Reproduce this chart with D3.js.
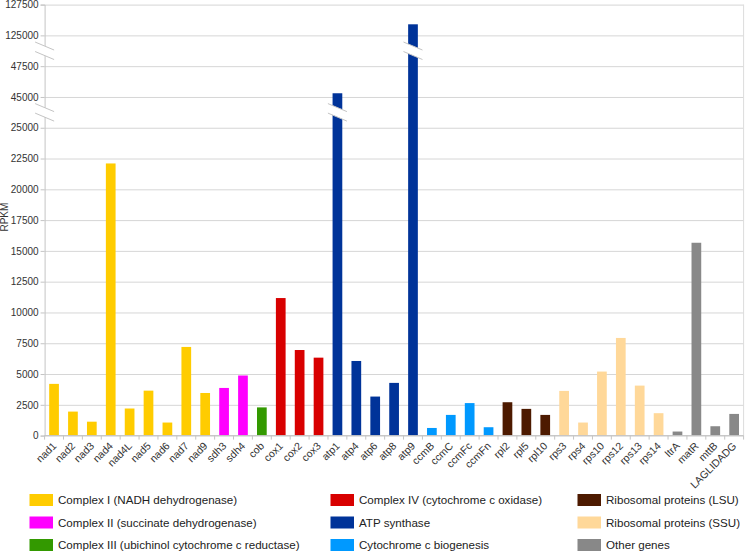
<!DOCTYPE html>
<html><head><meta charset="utf-8">
<script src="https://cdn.jsdelivr.net/npm/d3@7"></script>
<style>
html,body{margin:0;padding:0;background:#fff;}
svg{display:block;font-family:"Liberation Sans",Arial,sans-serif;}
</style></head><body>
<svg id="chart" width="745" height="553"></svg>
<script>
const genes = ["nad1","nad2","nad3","nad4","nad4L","nad5","nad6","nad7","nad9","sdh3","sdh4","cob","cox1","cox2","cox3","atp1","atp4","atp6","atp8","atp9","ccmB","ccmC","ccmFc","ccmFn","rpl2","rpl5","rpl10","rps3","rps4","rps10","rps12","rps13","rps14","ltrA","matR","mttB","LAGLIDADG"];
const values = [4200,1950,1130,22100,2200,3650,1060,7200,3460,3870,4880,2290,11170,6950,6330,45300,6060,3170,4280,125900,620,1680,2640,680,2710,2170,1680,3630,1060,5200,7930,4060,1820,330,15660,760,1760];
const groupOf = [0,0,0,0,0,0,0,0,0,1,1,2,3,3,3,4,4,4,4,4,5,5,5,5,6,6,6,7,7,7,7,7,7,8,8,8,8];
const groups = ["Complex I (NADH dehydrogenase)","Complex II (succinate dehydrogenase)","Complex III (ubichinol cytochrome c reductase)","Complex IV (cytochrome c oxidase)","ATP synthase","Cytochrome c biogenesis","Ribosomal proteins (LSU)","Ribosomal proteins (SSU)","Other genes"];
const colors = ["#FFCC00","#FF00FF","#339900","#D80000","#003399","#0099FF","#4D1A00","#FFD899","#888888"];
const yTicks = [0,2500,5000,7500,10000,12500,15000,17500,20000,22500,25000,45000,47500,125000,127500];
const yDomain = [0,25000,45000,47500,125000,127500];
const axisBreaks = [[25000,45000],[47500,125000]];
const barBreaks = [{gene:"atp1", brk:0},{gene:"atp9", brk:1}];
const yLabel = "RPKM";

const svg = d3.select("#chart");
const X0 = 44.6, X1 = 743.6, YB = 435.6, YT = 4.6;
const step = (YB - YT) / 14;
const y = d3.scaleLinear().domain(yDomain)
  .range([YB, YB - 10*step, YB - 11*step, YB - 12*step, YB - 13*step, YB - 14*step]);
const x = d3.scaleBand().domain(genes).range([X0, X1]).paddingInner(0.486).paddingOuter(0.243);

// gridlines
svg.append("g").attr("transform", `translate(${X0},0)`)
  .call(d3.axisLeft(y).tickValues(yTicks).tickSize(-(X1 - X0)).tickFormat(""))
  .call(g => g.select(".domain").remove())
  .call(g => g.selectAll("line").attr("stroke", "#d6d6d6"));

// right border
svg.append("line").attr("x1", X1).attr("x2", X1).attr("y1", YT).attr("y2", YB).attr("stroke", "#dcdcdc");

// y axis
svg.append("g").attr("transform", `translate(${X0},0)`)
  .call(d3.axisLeft(y).tickValues(yTicks).tickSize(4).tickPadding(2).tickFormat(d3.format("d")))
  .call(g => g.select(".domain").attr("stroke", "#c4c4c4"))
  .call(g => g.selectAll(".tick line").attr("stroke", "#c4c4c4"))
  .call(g => g.selectAll("text").attr("fill", "#333").attr("font-size", "10px").attr("font-family", "Liberation Sans, Arial, sans-serif"));

// bars
svg.append("g").selectAll("rect").data(genes).join("rect")
  .attr("x", d => x(d))
  .attr("y", (d, i) => y(values[i]))
  .attr("width", x.bandwidth())
  .attr("height", (d, i) => YB - y(values[i]))
  .attr("fill", (d, i) => colors[groupOf[i]]);

// x axis baseline + boundary ticks
svg.append("line").attr("x1", X0).attr("x2", X1).attr("y1", YB).attr("y2", YB).attr("stroke", "#c4c4c4");
const bounds = genes.map(g => x(g) - (x.step() - x.bandwidth()) / 2).concat([X1]);
svg.append("g").selectAll("line").data(bounds).join("line")
  .attr("x1", d => d).attr("x2", d => d).attr("y1", YB).attr("y2", YB + 4).attr("stroke", "#c4c4c4");

// x labels
svg.append("g").selectAll("text").data(genes).join("text")
  .attr("transform", d => `translate(${x(d) + x.bandwidth()/2 + 3},${YB + 11}) rotate(-45)`)
  .attr("text-anchor", "end")
  .attr("font-size", "10.5px")
  .attr("fill", "#333")
  .text(d => d);

// break marks
function breakMark(cx, cy, hw) {
  const s = 4, gap = 9.5;
  const g = svg.append("g");
  g.append("polygon")
    .attr("points", [[cx-hw, cy-gap/2-s],[cx+hw, cy-gap/2+s],[cx+hw, cy+gap/2+s],[cx-hw, cy+gap/2-s]].map(p => p.join(",")).join(" "))
    .attr("fill", "#fff");
  [-gap/2, gap/2].forEach(o => {
    g.append("line").attr("x1", cx-hw).attr("y1", cy+o-s).attr("x2", cx+hw).attr("y2", cy+o+s)
      .attr("stroke", "#c4c4c4").attr("stroke-width", 1);
  });
}
axisBreaks.forEach(b => breakMark(X0, (y(b[0]) + y(b[1])) / 2, 9.5));
barBreaks.forEach(b => {
  const br = axisBreaks[b.brk];
  breakMark(x(b.gene) + x.bandwidth()/2, (y(br[0]) + y(br[1])) / 2, 9.5);
});

// y label
svg.append("text").attr("transform", `translate(8,${(YB+YT)/2 - 3}) rotate(-90)`)
  .attr("text-anchor", "middle").attr("font-size", "10px").attr("fill", "#333").text(yLabel);

// legend
const colX = [29.5, 330.5, 577.5];
const rowY = [500, 522.5, 545];
const lg = svg.append("g").selectAll("g").data(groups).join("g")
  .attr("transform", (d, i) => `translate(${colX[Math.floor(i/3)]},${rowY[i%3]})`);
lg.append("rect").attr("x", 0).attr("y", -6).attr("width", 23.5).attr("height", 12).attr("fill", (d, i) => colors[i]);
lg.append("text").attr("x", 28.5).attr("y", 0).attr("dy", "0.36em").attr("font-size", "11.6px").attr("fill", "#222").text(d => d);
</script>
</body></html>
